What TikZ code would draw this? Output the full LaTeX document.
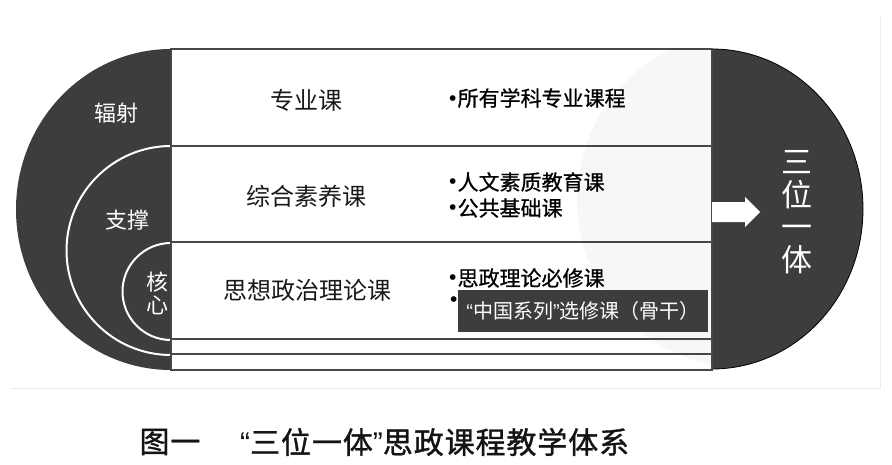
\documentclass[tikz,border=0pt]{standalone}
\usepackage{fontspec}
\setmainfont{Noto Sans CJK SC}
\newfontfamily\latinfont{Liberation Sans}
\newfontfamily\capfont{Noto Sans CJK SC}[FakeBold=1.2,LetterSpace=3]
\newfontfamily\bulfont{Noto Sans CJK SC}[FakeBold=0.8]
\newcommand{\mybul}{{\latinfont\raisebox{0.05em}{•}}\hspace{0.05em}}
\newcommand{\myoq}{{\latinfont “}}
\newcommand{\mycq}{{\latinfont ”}}
\begin{document}
\begin{tikzpicture}[x=1pt,y=-1pt,
  darkfill/.style={fill=black!76},
  rule/.style={draw=black!72,line width=1.6pt},
  whitearc/.style={draw=white,line width=2pt},
  rowlabel/.style={font=\fontsize{24}{26}\selectfont,text=black!90,inner sep=0pt},
  sidelabel/.style={font=\fontsize{22}{23}\selectfont,text=white,inner sep=0pt,align=center},
  bullet/.style={font=\bulfont\fontsize{21}{24}\selectfont,text=black,anchor=west,inner sep=0pt},
]
\useasboundingbox (0,0) rectangle (892,464);
% faint frame
\draw[black!8,line width=0.8pt] (10,388) -- (880,388) -- (880,15);
% faint background disc inside table
\begin{scope}
  \clip (171,49) rectangle (712,370);
  \fill[black!3] (745,200) circle[radius=168];
\end{scope}
% left dark half disc
\fill[darkfill] (171,49) arc[start angle=-90,end angle=-270,x radius=155,y radius=160.5] -- cycle;
\draw[whitearc] (171,146) arc[start angle=-90,end angle=-270,radius=104.5];
\draw[whitearc] (171,243) arc[start angle=-90,end angle=-270,radius=48.5];
% right dark half disc
\fill[darkfill,draw=black,line width=0.8pt] (712,49) arc[start angle=-90,end angle=90,x radius=151,y radius=160] -- cycle;
% table
\draw[rule] (171,49) rectangle (712,370);
\draw[rule] (171,146) -- (712,146);
\draw[rule] (171,242) -- (712,242);
\draw[rule] (171,339) -- (712,339);
\draw[rule] (171,354) -- (712,354);
% arrow
\fill[white] (712,202) -- (745,202) -- (745,197) -- (760,212) -- (745,227) -- (745,222) -- (712,222) -- cycle;
% side labels
\node[sidelabel] (fushe) at (116,113) {辐射};
\node[sidelabel] (zhicheng) at (127,220) {支撑};
\node[sidelabel] (hexin) at (157,293) {核\\心};
% row labels
\node[rowlabel] (zhuanye) at (306,100) {专业课};
\node[rowlabel] (zonghe) at (306,196) {综合素养课};
\node[rowlabel] (sizheng) at (307,290) {思想政治理论课};
% bullets
\node[bullet] (b1) at (449,98) {\mybul 所有学科专业课程};
\node[bullet] (b2) at (449,182) {\mybul 人文素质教育课};
\node[bullet] (b3) at (449,208) {\mybul 公共基础课};
\node[bullet] (b4) at (449,278) {\mybul 思政理论必修课};
\node[bullet] (b5) at (450,302) {\mybul};
\node[darkfill,text=white,font=\fontsize{20}{22}\selectfont,minimum width=250pt,minimum height=42pt,inner sep=0pt] (gugan) at (583,311) {\myoq 中国系列\mycq 选修课（骨干）};
% right label
\node[font=\fontsize{31}{32.5}\selectfont,text=white,align=center,inner sep=0pt] (sanwei) at (797,212) {三\\位\\一\\体};
% caption
\node[font=\capfont\fontsize{30}{32}\selectfont,text=black!92,inner sep=0pt] (tuyi) at (170,442) {图一};
\node[font=\capfont\fontsize{30}{32}\selectfont,text=black!92,anchor=west,inner sep=0pt] (caption) at (240,442) {\myoq 三位一体\mycq 思政课程教学体系};
\end{tikzpicture}
\end{document}
